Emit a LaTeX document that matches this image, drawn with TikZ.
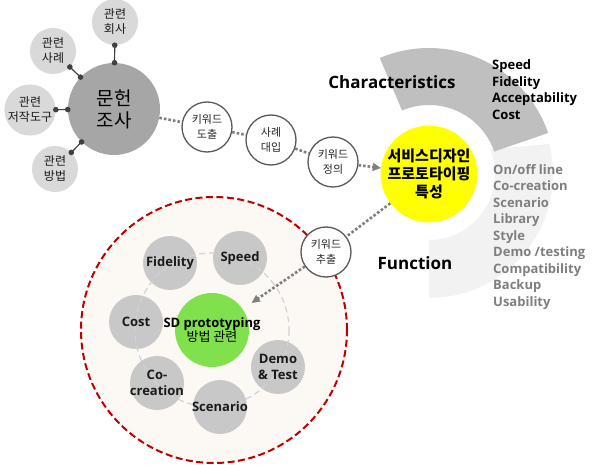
\documentclass[tikz,border=0pt]{standalone}
\usepackage{fontspec}
\setmainfont{Open Sans}
\newfontfamily\kr{Noto Sans CJK KR}
\usetikzlibrary{arrows.meta}
\definecolor{satg}{HTML}{D9D9D9}
\definecolor{maing}{HTML}{A6A6A6}
\definecolor{charg}{HTML}{BFBFBF}
\definecolor{funcg}{HTML}{F2F2F2}
\definecolor{dotg}{HTML}{7F7F7F}
\definecolor{kwline}{HTML}{595959}
\definecolor{kwtext}{HTML}{262626}
\definecolor{yel}{HTML}{FFFF00}
\definecolor{grn}{HTML}{80E14C}
\definecolor{inng}{HTML}{C8C8C8}
\definecolor{redc}{HTML}{C00000}
\definecolor{beige}{HTML}{FCF8F3}
\definecolor{ringc}{HTML}{D2D2D2}
\definecolor{listg}{HTML}{7F7F7F}
\definecolor{darkt}{HTML}{1A1A1A}
\definecolor{satline}{HTML}{404040}
\begin{document}
\begin{tikzpicture}[x=1pt,y=-1pt,
  every node/.style={inner sep=0pt},
  circ/.style={circle,minimum size=#1},
  sat/.style={circ=46pt,fill=satg,align=center,text=darkt,font=\kr\fontsize{12}{15}\selectfont},
  kw/.style={circ=50pt,fill=white,draw=kwline,line width=1.3pt,align=center,text=kwtext,font=\kr\fontsize{11}{14.5}\selectfont},
  inn/.style={circ=54pt,fill=inng},
  innt/.style={align=center,text=darkt,font=\bfseries\fontsize{13}{16.5}\selectfont},
  dotl/.style={draw=dotg,line width=2.6pt,dash pattern=on 2.6pt off 2pt},
  arr/.style={dotl,-{Triangle[length=8pt,width=8pt,line width=0.4pt]}},
  satl/.style={draw=satline,line width=1.2pt,{Circle[length=5.5pt]}-{Circle[length=5.5pt]},shorten <=-2.7pt,shorten >=-2.7pt},
  bigt/.style={font=\bfseries\fontsize{17}{20}\selectfont,text=black},
  listb/.style={anchor=base west,font=\bfseries\fontsize{13}{16}\selectfont,text=black},
  listf/.style={anchor=base west,font=\bfseries\fontsize{13}{16}\selectfont,text=listg}
]
\useasboundingbox (0,0) rectangle (600,465);
\fill[white] (0,0) rectangle (600,465);

% sectors around the yellow circle
\begin{scope}[shift={(429,174)}]
 \begin{scope}[y=1pt]
  \fill[funcg] (22:66) -- (14:124) arc[start angle=14,end angle=-90,radius=124] -- (-90:66) arc[start angle=-90,end angle=22,radius=66] -- cycle;
  \fill[charg] (19:126) arc[start angle=19,end angle=113,radius=126] -- (113:69) arc[start angle=113,end angle=19,radius=69] -- cycle;
 \end{scope}
\end{scope}

% big dashed area
\node[circ=266pt,fill=beige,draw=redc,line width=2pt,dash pattern=on 7pt off 3.5pt] (area) at (214,330) {};

% literature research cluster
\node[circ=92pt,fill=maing,align=center,text=black,font=\kr\fontsize{19}{22}\selectfont] (m) at (114,109) {문헌\\조사};
\node[sat] (s1) at (115,22) {관련\\회사};
\node[sat] (s2) at (53,51) {관련\\사례};
\node[sat] (s3) at (30,110) {관련\\저작도구};
\node[sat] (s4) at (55,169) {관련\\방법};
\draw[satl] (s1) -- (m);
\draw[satl] (s2) -- (m);
\draw[satl] (s3) -- (m);
\draw[satl] (s4) -- (m);

% keyword circles
\node[kw] (k1) at (207,127) {키워드\\도출};
\node[kw] (k2) at (271,140) {사례\\대입};
\node[kw] (k3) at (333,162) {키워드\\정의};
\node[kw] (k4) at (326,252) {키워드\\추출};

% yellow core
\node[circ=92pt,fill=yel,align=center,text=black,font=\kr\bfseries\fontsize{15}{18}\selectfont] (y) at (429,174) {서비스디자인\\프로토타이핑\\특성};

% inner method circles
\node[inn] (fid) at (170,263) {};
\node[inn] (spd) at (240,258) {};
\node[inn] (cst) at (136,322) {};
\node[inn] (coc) at (157,383) {};
\node[inn] (scn) at (220,407) {};
\node[inn] (dmo) at (278,367) {};
\node[circ=74pt,fill=grn] (g) at (212,330) {};
\draw[ringc,line width=1.2pt,dash pattern=on 6pt off 4pt] (g.center) circle[radius=77];
\node[innt] at (fid) {Fidelity};
\node[innt] at (spd) {Speed};
\node[innt] at (cst) {Cost};
\node[innt] at (coc) {Co-\\creation};
\node[innt] at (scn) {Scenario};
\node[innt] at (dmo) {Demo\\\&~Test};
\node[align=center,text=black] (gt) at (212,330) {{\bfseries\fontsize{13}{16}\selectfont SD prototyping}\\{\kr\fontsize{13}{16}\selectfont 방법 관련}};

% dotted connectors
\draw[dotl] (m) -- (k1);
\draw[dotl] (k1) -- (k2);
\draw[dotl] (k2) -- (k3);
\draw[arr] (k3) -- (y);
\draw[dotl] (y) -- (k4);
\draw[arr,shorten >=11pt] (k4) -- (g);

% headings
\node[bigt] (ch) at (392,82) {Characteristics};
\node[bigt] (fn) at (415,263) {Function};

% characteristics list
\node[listb] (c1) at (492,70) {Speed};
\node[listb] (c2) at (492,86.5) {Fidelity};
\node[listb] (c3) at (492,103) {Acceptability};
\node[listb] (c4) at (492,119.5) {Cost};

% function list
\node[listf] (f1) at (493,174.5) {On/off line};
\node[listf] (f2) at (493,191) {Co-creation};
\node[listf] (f3) at (493,207.5) {Scenario};
\node[listf] (f4) at (493,224) {Library};
\node[listf] (f5) at (493,240.5) {Style};
\node[listf] (f6) at (493,257) {Demo /testing};
\node[listf] (f7) at (493,273.5) {Compatibility};
\node[listf] (f8) at (493,290) {Backup};
\node[listf] (f9) at (493,306.5) {Usability};
\end{tikzpicture}
\end{document}
